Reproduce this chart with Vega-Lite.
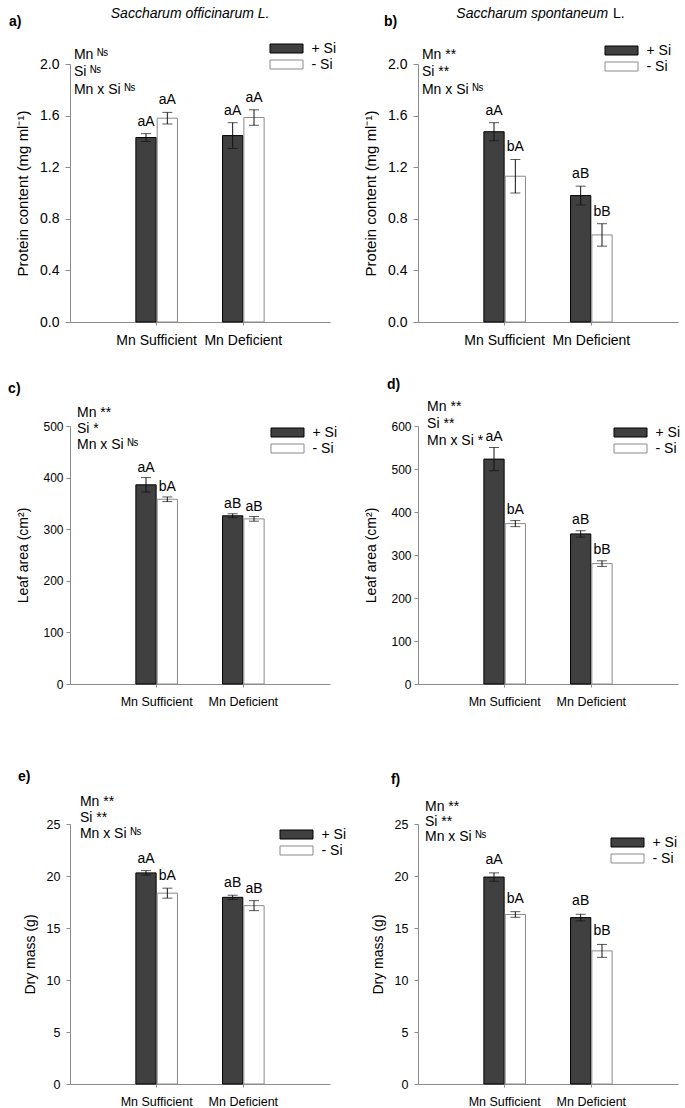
{
  "$schema": "https://vega.github.io/schema/vega-lite/v6.json",
  "background": "white",
  "padding": {"left": 8, "top": 6, "right": 5, "bottom": 2},
  "config": {
    "font": "Liberation Sans",
    "view": {"stroke": null},
    "axis": {"domainColor": "#8c8c8c", "tickColor": "#8c8c8c", "labelColor": "#000000", "titleColor": "#000000", "grid": false, "titleFontWeight": "normal", "titleFontSize": 14, "labelFont": "Liberation Sans", "titleFont": "Liberation Sans"},
    "legend": {"labelFont": "Liberation Sans", "labelColor": "#000000"},
    "text": {"color": "#000000"}
  },
  "datasets": {
    "bars": [
      {"panel": "a", "mn": "Mn Sufficient", "si": "+ Si", "val": 1.43, "lo": 1.40, "hi": 1.46, "lab": "aA"},
      {"panel": "a", "mn": "Mn Sufficient", "si": "- Si", "val": 1.58, "lo": 1.535, "hi": 1.625, "lab": "aA"},
      {"panel": "a", "mn": "Mn Deficient", "si": "+ Si", "val": 1.445, "lo": 1.345, "hi": 1.545, "lab": "aA"},
      {"panel": "a", "mn": "Mn Deficient", "si": "- Si", "val": 1.585, "lo": 1.525, "hi": 1.645, "lab": "aA"},
      {"panel": "b", "mn": "Mn Sufficient", "si": "+ Si", "val": 1.475, "lo": 1.405, "hi": 1.545, "lab": "aA"},
      {"panel": "b", "mn": "Mn Sufficient", "si": "- Si", "val": 1.13, "lo": 1.0, "hi": 1.26, "lab": "bA"},
      {"panel": "b", "mn": "Mn Deficient", "si": "+ Si", "val": 0.98, "lo": 0.907, "hi": 1.053, "lab": "aB"},
      {"panel": "b", "mn": "Mn Deficient", "si": "- Si", "val": 0.675, "lo": 0.588, "hi": 0.762, "lab": "bB"},
      {"panel": "c", "mn": "Mn Sufficient", "si": "+ Si", "val": 386, "lo": 372, "hi": 400, "lab": "aA"},
      {"panel": "c", "mn": "Mn Sufficient", "si": "- Si", "val": 358, "lo": 353.5, "hi": 362.5, "lab": "bA"},
      {"panel": "c", "mn": "Mn Deficient", "si": "+ Si", "val": 326, "lo": 322, "hi": 330, "lab": "aB"},
      {"panel": "c", "mn": "Mn Deficient", "si": "- Si", "val": 320, "lo": 315.5, "hi": 324.5, "lab": "aB"},
      {"panel": "d", "mn": "Mn Sufficient", "si": "+ Si", "val": 523, "lo": 496, "hi": 550, "lab": "aA"},
      {"panel": "d", "mn": "Mn Sufficient", "si": "- Si", "val": 373, "lo": 366, "hi": 380, "lab": "bA"},
      {"panel": "d", "mn": "Mn Deficient", "si": "+ Si", "val": 349, "lo": 341.5, "hi": 356.5, "lab": "aB"},
      {"panel": "d", "mn": "Mn Deficient", "si": "- Si", "val": 280, "lo": 273.5, "hi": 286.5, "lab": "bB"},
      {"panel": "e", "mn": "Mn Sufficient", "si": "+ Si", "val": 20.3, "lo": 20.08, "hi": 20.52, "lab": "aA"},
      {"panel": "e", "mn": "Mn Sufficient", "si": "- Si", "val": 18.35, "lo": 17.87, "hi": 18.83, "lab": "bA"},
      {"panel": "e", "mn": "Mn Deficient", "si": "+ Si", "val": 17.95, "lo": 17.75, "hi": 18.15, "lab": "aB"},
      {"panel": "e", "mn": "Mn Deficient", "si": "- Si", "val": 17.15, "lo": 16.67, "hi": 17.63, "lab": "aB"},
      {"panel": "f", "mn": "Mn Sufficient", "si": "+ Si", "val": 19.9, "lo": 19.5, "hi": 20.3, "lab": "aA"},
      {"panel": "f", "mn": "Mn Sufficient", "si": "- Si", "val": 16.3, "lo": 16.03, "hi": 16.57, "lab": "bA"},
      {"panel": "f", "mn": "Mn Deficient", "si": "+ Si", "val": 16.0, "lo": 15.68, "hi": 16.32, "lab": "aB"},
      {"panel": "f", "mn": "Mn Deficient", "si": "- Si", "val": 12.8, "lo": 12.18, "hi": 13.42, "lab": "bB"}
    ],
    "panels": [
      {"panel": "a", "tag": "a)", "sp1": "Saccharum officinarum L.", "sp2": "", "notes": "Mn ᴺˢ\nSi ᴺˢ\nMn x Si ᴺˢ"},
      {"panel": "b", "tag": "b)", "sp1": "Saccharum spontaneum", "sp2": "L.", "notes": "Mn **\nSi **\nMn x Si ᴺˢ"},
      {"panel": "c", "tag": "c)", "sp1": "", "sp2": "", "notes": "Mn **\nSi *\nMn x Si ᴺˢ"},
      {"panel": "d", "tag": "d)", "sp1": "", "sp2": "", "notes": "Mn **\nSi **\nMn x Si *"},
      {"panel": "e", "tag": "e)", "sp1": "", "sp2": "", "notes": "Mn **\nSi **\nMn x Si ᴺˢ"},
      {"panel": "f", "tag": "f)", "sp1": "", "sp2": "", "notes": "Mn **\nSi **\nMn x Si ᴺˢ"}
    ]
  },
  "columns": 2,
  "spacing": {"row": 104, "column": 88},
  "bounds": "flush",
  "resolve": {"scale": {"x": "independent", "y": "independent", "fill": "independent", "stroke": "independent"}},
  "concat": [
    {
      "width": 260, "height": 258,
      "resolve": {"scale": {"x": "independent"}},
      "layer": [
        {
          "data": {"name": "bars"},
          "transform": [{"filter": "datum.panel === 'a'"}],
          "encoding": {
            "x": {"field": "mn", "type": "nominal", "scale": {"domain": ["Mn Sufficient", "Mn Deficient"], "paddingInner": 0.52, "paddingOuter": 0.76}, "axis": {"title": null, "labelAngle": 0, "labelFontSize": 14, "tickSize": 3, "labelPadding": 8, "labelOverlap": false}},
            "xOffset": {"field": "si", "type": "nominal", "scale": {"domain": ["+ Si", "- Si"], "paddingInner": 0.05}}
          },
          "layer": [
            {"mark": {"type": "bar", "strokeWidth": 1},
             "encoding": {
               "y": {"field": "val", "type": "quantitative", "scale": {"domain": [0, 2], "nice": false}, "axis": {"title": "Protein content (mg ml⁻¹)", "values": [0, 0.4, 0.8, 1.2, 1.6, 2.0], "format": ".1f", "labelFontSize": 14, "titleFontSize": 15, "tickSize": 5, "labelPadding": 6, "titlePadding": 9}},
               "fill": {"field": "si", "type": "nominal", "scale": {"domain": ["+ Si", "- Si"], "range": ["#404040", "#ffffff"]}, "legend": {"orient": "none", "legendX": 209.5, "legendY": -22.5, "title": null, "symbolType": "M-2.75,-0.75H2.75V0.75H-2.75Z", "symbolSize": 144, "labelFontSize": 14, "labelOffset": 18, "rowPadding": 2, "symbolStrokeWidth": 1, "padding": 0}},
               "stroke": {"field": "si", "type": "nominal", "scale": {"domain": ["+ Si", "- Si"], "range": ["#000000", "#8a8a8a"]}, "legend": {"orient": "none", "legendX": 209.5, "legendY": -22.5, "title": null, "symbolType": "M-2.75,-0.75H2.75V0.75H-2.75Z", "symbolSize": 144, "labelFontSize": 14, "labelOffset": 18, "rowPadding": 2, "symbolStrokeWidth": 1, "padding": 0}}
             }},
            {"mark": {"type": "rule", "color": "#111111", "strokeWidth": 1}, "encoding": {"y": {"field": "lo", "type": "quantitative"}, "y2": {"field": "hi"}}},
            {"mark": {"type": "tick", "color": "#111111", "thickness": 1, "size": 10}, "encoding": {"y": {"field": "lo", "type": "quantitative"}}},
            {"mark": {"type": "tick", "color": "#111111", "thickness": 1, "size": 10}, "encoding": {"y": {"field": "hi", "type": "quantitative"}}},
            {"mark": {"type": "text", "fontSize": 14, "dy": -8, "baseline": "alphabetic"}, "encoding": {"y": {"field": "hi", "type": "quantitative"}, "text": {"field": "lab"}}}
          ]
        },
        {
          "data": {"name": "panels"},
          "transform": [{"filter": "datum.panel === 'a'"}],
          "layer": [
            {"mark": {"type": "text", "fontSize": 14, "fontWeight": "bold", "align": "left", "baseline": "alphabetic"},
             "encoding": {"x": {"datum": -0.235, "type": "quantitative", "scale": {"domain": [0, 1]}, "axis": null}, "y": {"datum": 2.295, "type": "quantitative"}, "text": {"field": "tag"}}},
            {"mark": {"type": "text", "fontSize": 14, "fontStyle": "italic", "align": "center", "baseline": "alphabetic"},
             "encoding": {"x": {"datum": 0.462, "type": "quantitative"}, "y": {"datum": 2.357, "type": "quantitative"}, "text": {"field": "sp1"}}},
            {"mark": {"type": "text", "fontSize": 14, "align": "left", "baseline": "alphabetic", "lineBreak": "\n", "lineHeight": 17.5},
             "encoding": {"x": {"datum": 0.015, "type": "quantitative"}, "y": {"datum": 2.039, "type": "quantitative"}, "text": {"field": "notes"}}}
          ]
        }
      ]
    },
    {
      "width": 260, "height": 258,
      "resolve": {"scale": {"x": "independent"}},
      "layer": [
        {
          "data": {"name": "bars"},
          "transform": [{"filter": "datum.panel === 'b'"}],
          "encoding": {
            "x": {"field": "mn", "type": "nominal", "scale": {"domain": ["Mn Sufficient", "Mn Deficient"], "paddingInner": 0.52, "paddingOuter": 0.76}, "axis": {"title": null, "labelAngle": 0, "labelFontSize": 14, "tickSize": 3, "labelPadding": 8, "labelOverlap": false}},
            "xOffset": {"field": "si", "type": "nominal", "scale": {"domain": ["+ Si", "- Si"], "paddingInner": 0.05}}
          },
          "layer": [
            {"mark": {"type": "bar", "strokeWidth": 1},
             "encoding": {
               "y": {"field": "val", "type": "quantitative", "scale": {"domain": [0, 2], "nice": false}, "axis": {"title": "Protein content (mg ml⁻¹)", "values": [0, 0.4, 0.8, 1.2, 1.6, 2.0], "format": ".1f", "labelFontSize": 14, "titleFontSize": 15, "tickSize": 5, "labelPadding": 6, "titlePadding": 9}},
               "fill": {"field": "si", "type": "nominal", "scale": {"domain": ["+ Si", "- Si"], "range": ["#404040", "#ffffff"]}, "legend": {"orient": "none", "legendX": 196.5, "legendY": -20.5, "title": null, "symbolType": "M-2.75,-0.75H2.75V0.75H-2.75Z", "symbolSize": 144, "labelFontSize": 14, "labelOffset": 18, "rowPadding": 2, "symbolStrokeWidth": 1, "padding": 0}},
               "stroke": {"field": "si", "type": "nominal", "scale": {"domain": ["+ Si", "- Si"], "range": ["#000000", "#8a8a8a"]}, "legend": {"orient": "none", "legendX": 196.5, "legendY": -20.5, "title": null, "symbolType": "M-2.75,-0.75H2.75V0.75H-2.75Z", "symbolSize": 144, "labelFontSize": 14, "labelOffset": 18, "rowPadding": 2, "symbolStrokeWidth": 1, "padding": 0}}
             }},
            {"mark": {"type": "rule", "color": "#111111", "strokeWidth": 1}, "encoding": {"y": {"field": "lo", "type": "quantitative"}, "y2": {"field": "hi"}}},
            {"mark": {"type": "tick", "color": "#111111", "thickness": 1, "size": 10}, "encoding": {"y": {"field": "lo", "type": "quantitative"}}},
            {"mark": {"type": "tick", "color": "#111111", "thickness": 1, "size": 10}, "encoding": {"y": {"field": "hi", "type": "quantitative"}}},
            {"mark": {"type": "text", "fontSize": 14, "dy": -8, "baseline": "alphabetic"}, "encoding": {"y": {"field": "hi", "type": "quantitative"}, "text": {"field": "lab"}}}
          ]
        },
        {
          "data": {"name": "panels"},
          "transform": [{"filter": "datum.panel === 'b'"}],
          "layer": [
            {"mark": {"type": "text", "fontSize": 14, "fontWeight": "bold", "align": "left", "baseline": "alphabetic"},
             "encoding": {"x": {"datum": -0.131, "type": "quantitative", "scale": {"domain": [0, 1]}, "axis": null}, "y": {"datum": 2.295, "type": "quantitative"}, "text": {"field": "tag"}}},
            {"mark": {"type": "text", "fontSize": 14, "fontStyle": "italic", "align": "right", "baseline": "alphabetic"},
             "encoding": {"x": {"datum": 0.731, "type": "quantitative"}, "y": {"datum": 2.357, "type": "quantitative"}, "text": {"field": "sp1"}}},
            {"mark": {"type": "text", "fontSize": 14, "align": "left", "baseline": "alphabetic"},
             "encoding": {"x": {"datum": 0.75, "type": "quantitative"}, "y": {"datum": 2.357, "type": "quantitative"}, "text": {"field": "sp2"}}},
            {"mark": {"type": "text", "fontSize": 14, "align": "left", "baseline": "alphabetic", "lineBreak": "\n", "lineHeight": 17.5},
             "encoding": {"x": {"datum": 0.015, "type": "quantitative"}, "y": {"datum": 2.039, "type": "quantitative"}, "text": {"field": "notes"}}}
          ]
        }
      ]
    },
    {
      "width": 260, "height": 258,
      "resolve": {"scale": {"x": "independent"}},
      "layer": [
        {
          "data": {"name": "bars"},
          "transform": [{"filter": "datum.panel === 'c'"}],
          "encoding": {
            "x": {"field": "mn", "type": "nominal", "scale": {"domain": ["Mn Sufficient", "Mn Deficient"], "paddingInner": 0.52, "paddingOuter": 0.76}, "axis": {"title": null, "labelAngle": 0, "labelFontSize": 12.5, "tickSize": 3, "labelPadding": 8, "labelOverlap": false}},
            "xOffset": {"field": "si", "type": "nominal", "scale": {"domain": ["+ Si", "- Si"], "paddingInner": 0.05}}
          },
          "layer": [
            {"mark": {"type": "bar", "strokeWidth": 1},
             "encoding": {
               "y": {"field": "val", "type": "quantitative", "scale": {"domain": [0, 500], "nice": false}, "axis": {"title": "Leaf area (cm²)", "values": [0, 100, 200, 300, 400, 500], "labelFontSize": 12, "titleFontSize": 14, "tickSize": 4, "labelPadding": 3, "titlePadding": 12}},
               "fill": {"field": "si", "type": "nominal", "scale": {"domain": ["+ Si", "- Si"], "range": ["#404040", "#ffffff"]}, "legend": {"orient": "none", "legendX": 210.5, "legendY": -0.5, "title": null, "symbolType": "M-2.75,-0.75H2.75V0.75H-2.75Z", "symbolSize": 144, "labelFontSize": 14, "labelOffset": 18, "rowPadding": 2, "symbolStrokeWidth": 1, "padding": 0}},
               "stroke": {"field": "si", "type": "nominal", "scale": {"domain": ["+ Si", "- Si"], "range": ["#000000", "#8a8a8a"]}, "legend": {"orient": "none", "legendX": 210.5, "legendY": -0.5, "title": null, "symbolType": "M-2.75,-0.75H2.75V0.75H-2.75Z", "symbolSize": 144, "labelFontSize": 14, "labelOffset": 18, "rowPadding": 2, "symbolStrokeWidth": 1, "padding": 0}}
             }},
            {"mark": {"type": "rule", "color": "#111111", "strokeWidth": 1}, "encoding": {"y": {"field": "lo", "type": "quantitative"}, "y2": {"field": "hi"}}},
            {"mark": {"type": "tick", "color": "#111111", "thickness": 1, "size": 10}, "encoding": {"y": {"field": "lo", "type": "quantitative"}}},
            {"mark": {"type": "tick", "color": "#111111", "thickness": 1, "size": 10}, "encoding": {"y": {"field": "hi", "type": "quantitative"}}},
            {"mark": {"type": "text", "fontSize": 14, "dy": -6, "baseline": "alphabetic"}, "encoding": {"y": {"field": "hi", "type": "quantitative"}, "text": {"field": "lab"}}}
          ]
        },
        {
          "data": {"name": "panels"},
          "transform": [{"filter": "datum.panel === 'c'"}],
          "layer": [
            {"mark": {"type": "text", "fontSize": 14, "fontWeight": "bold", "align": "left", "baseline": "alphabetic"},
             "encoding": {"x": {"datum": -0.238, "type": "quantitative", "scale": {"domain": [0, 1]}, "axis": null}, "y": {"datum": 564, "type": "quantitative"}, "text": {"field": "tag"}}},
            {"mark": {"type": "text", "fontSize": 14, "align": "left", "baseline": "alphabetic", "lineBreak": "\n", "lineHeight": 16},
             "encoding": {"x": {"datum": 0.027, "type": "quantitative"}, "y": {"datum": 517.4, "type": "quantitative"}, "text": {"field": "notes"}}}
          ]
        }
      ]
    },
    {
      "width": 260, "height": 258,
      "resolve": {"scale": {"x": "independent"}},
      "layer": [
        {
          "data": {"name": "bars"},
          "transform": [{"filter": "datum.panel === 'd'"}],
          "encoding": {
            "x": {"field": "mn", "type": "nominal", "scale": {"domain": ["Mn Sufficient", "Mn Deficient"], "paddingInner": 0.52, "paddingOuter": 0.76}, "axis": {"title": null, "labelAngle": 0, "labelFontSize": 12.5, "tickSize": 3, "labelPadding": 8, "labelOverlap": false}},
            "xOffset": {"field": "si", "type": "nominal", "scale": {"domain": ["+ Si", "- Si"], "paddingInner": 0.05}}
          },
          "layer": [
            {"mark": {"type": "bar", "strokeWidth": 1},
             "encoding": {
               "y": {"field": "val", "type": "quantitative", "scale": {"domain": [0, 600], "nice": false}, "axis": {"title": "Leaf area (cm²)", "values": [0, 100, 200, 300, 400, 500, 600], "labelFontSize": 12, "titleFontSize": 14, "tickSize": 4, "labelPadding": 3, "titlePadding": 12}},
               "fill": {"field": "si", "type": "nominal", "scale": {"domain": ["+ Si", "- Si"], "range": ["#404040", "#ffffff"]}, "legend": {"orient": "none", "legendX": 205.5, "legendY": -0.5, "title": null, "symbolType": "M-2.75,-0.75H2.75V0.75H-2.75Z", "symbolSize": 144, "labelFontSize": 14, "labelOffset": 18, "rowPadding": 2, "symbolStrokeWidth": 1, "padding": 0}},
               "stroke": {"field": "si", "type": "nominal", "scale": {"domain": ["+ Si", "- Si"], "range": ["#000000", "#8a8a8a"]}, "legend": {"orient": "none", "legendX": 205.5, "legendY": -0.5, "title": null, "symbolType": "M-2.75,-0.75H2.75V0.75H-2.75Z", "symbolSize": 144, "labelFontSize": 14, "labelOffset": 18, "rowPadding": 2, "symbolStrokeWidth": 1, "padding": 0}}
             }},
            {"mark": {"type": "rule", "color": "#111111", "strokeWidth": 1}, "encoding": {"y": {"field": "lo", "type": "quantitative"}, "y2": {"field": "hi"}}},
            {"mark": {"type": "tick", "color": "#111111", "thickness": 1, "size": 10}, "encoding": {"y": {"field": "lo", "type": "quantitative"}}},
            {"mark": {"type": "tick", "color": "#111111", "thickness": 1, "size": 10}, "encoding": {"y": {"field": "hi", "type": "quantitative"}}},
            {"mark": {"type": "text", "fontSize": 14, "dy": -7, "baseline": "alphabetic"}, "encoding": {"y": {"field": "hi", "type": "quantitative"}, "text": {"field": "lab"}}}
          ]
        },
        {
          "data": {"name": "panels"},
          "transform": [{"filter": "datum.panel === 'd'"}],
          "layer": [
            {"mark": {"type": "text", "fontSize": 14, "fontWeight": "bold", "align": "left", "baseline": "alphabetic"},
             "encoding": {"x": {"datum": -0.119, "type": "quantitative", "scale": {"domain": [0, 1]}, "axis": null}, "y": {"datum": 686, "type": "quantitative"}, "text": {"field": "tag"}}},
            {"mark": {"type": "text", "fontSize": 14, "align": "left", "baseline": "alphabetic", "lineBreak": "\n", "lineHeight": 17},
             "encoding": {"x": {"datum": 0.035, "type": "quantitative"}, "y": {"datum": 634.9, "type": "quantitative"}, "text": {"field": "notes"}}}
          ]
        }
      ]
    },
    {
      "width": 260, "height": 296,
      "resolve": {"scale": {"x": "independent"}},
      "layer": [
        {
          "data": {"name": "bars"},
          "transform": [{"filter": "datum.panel === 'e'"}],
          "encoding": {
            "x": {"field": "mn", "type": "nominal", "scale": {"domain": ["Mn Sufficient", "Mn Deficient"], "paddingInner": 0.52, "paddingOuter": 0.76}, "axis": {"title": null, "labelAngle": 0, "labelFontSize": 12.5, "tickSize": 3, "labelPadding": 8, "labelOverlap": false}},
            "xOffset": {"field": "si", "type": "nominal", "scale": {"domain": ["+ Si", "- Si"], "paddingInner": 0.05}}
          },
          "layer": [
            {"mark": {"type": "bar", "strokeWidth": 1},
             "encoding": {
               "y": {"field": "val", "type": "quantitative", "scale": {"domain": [0, 25], "nice": false, "range": [296, 36]}, "axis": {"title": "Dry mass (g)", "values": [0, 5, 10, 15, 20, 25], "labelFontSize": 12.5, "titleFontSize": 14, "tickSize": 4, "labelPadding": 6, "titlePadding": 9}},
               "fill": {"field": "si", "type": "nominal", "scale": {"domain": ["+ Si", "- Si"], "range": ["#404040", "#ffffff"]}, "legend": {"orient": "none", "legendX": 219.5, "legendY": 39.5, "title": null, "symbolType": "M-2.75,-0.75H2.75V0.75H-2.75Z", "symbolSize": 144, "labelFontSize": 14, "labelOffset": 18, "rowPadding": 2, "symbolStrokeWidth": 1, "padding": 0}},
               "stroke": {"field": "si", "type": "nominal", "scale": {"domain": ["+ Si", "- Si"], "range": ["#000000", "#8a8a8a"]}, "legend": {"orient": "none", "legendX": 219.5, "legendY": 39.5, "title": null, "symbolType": "M-2.75,-0.75H2.75V0.75H-2.75Z", "symbolSize": 144, "labelFontSize": 14, "labelOffset": 18, "rowPadding": 2, "symbolStrokeWidth": 1, "padding": 0}}
             }},
            {"mark": {"type": "rule", "color": "#111111", "strokeWidth": 1}, "encoding": {"y": {"field": "lo", "type": "quantitative"}, "y2": {"field": "hi"}}},
            {"mark": {"type": "tick", "color": "#111111", "thickness": 1, "size": 10}, "encoding": {"y": {"field": "lo", "type": "quantitative"}}},
            {"mark": {"type": "tick", "color": "#111111", "thickness": 1, "size": 10}, "encoding": {"y": {"field": "hi", "type": "quantitative"}}},
            {"mark": {"type": "text", "fontSize": 14, "dy": -8, "baseline": "alphabetic"}, "encoding": {"y": {"field": "hi", "type": "quantitative"}, "text": {"field": "lab"}}}
          ]
        },
        {
          "data": {"name": "panels"},
          "transform": [{"filter": "datum.panel === 'e'"}],
          "layer": [
            {"mark": {"type": "text", "fontSize": 14, "fontWeight": "bold", "align": "left", "baseline": "alphabetic"},
             "encoding": {"x": {"datum": -0.2, "type": "quantitative", "scale": {"domain": [0, 1]}, "axis": null}, "y": {"datum": 29.13, "type": "quantitative"}, "text": {"field": "tag"}}},
            {"mark": {"type": "text", "fontSize": 14, "align": "left", "baseline": "alphabetic", "lineBreak": "\n", "lineHeight": 16},
             "encoding": {"x": {"datum": 0.038, "type": "quantitative"}, "y": {"datum": 26.73, "type": "quantitative"}, "text": {"field": "notes"}}}
          ]
        }
      ]
    },
    {
      "width": 260, "height": 296,
      "resolve": {"scale": {"x": "independent"}},
      "layer": [
        {
          "data": {"name": "bars"},
          "transform": [{"filter": "datum.panel === 'f'"}],
          "encoding": {
            "x": {"field": "mn", "type": "nominal", "scale": {"domain": ["Mn Sufficient", "Mn Deficient"], "paddingInner": 0.52, "paddingOuter": 0.76}, "axis": {"title": null, "labelAngle": 0, "labelFontSize": 12.5, "tickSize": 3, "labelPadding": 8, "labelOverlap": false}},
            "xOffset": {"field": "si", "type": "nominal", "scale": {"domain": ["+ Si", "- Si"], "paddingInner": 0.05}}
          },
          "layer": [
            {"mark": {"type": "bar", "strokeWidth": 1},
             "encoding": {
               "y": {"field": "val", "type": "quantitative", "scale": {"domain": [0, 25], "nice": false, "range": [296, 36]}, "axis": {"title": "Dry mass (g)", "values": [0, 5, 10, 15, 20, 25], "labelFontSize": 12.5, "titleFontSize": 14, "tickSize": 4, "labelPadding": 6, "titlePadding": 9}},
               "fill": {"field": "si", "type": "nominal", "scale": {"domain": ["+ Si", "- Si"], "range": ["#404040", "#ffffff"]}, "legend": {"orient": "none", "legendX": 202.5, "legendY": 47.5, "title": null, "symbolType": "M-2.75,-0.75H2.75V0.75H-2.75Z", "symbolSize": 144, "labelFontSize": 14, "labelOffset": 18, "rowPadding": 2, "symbolStrokeWidth": 1, "padding": 0}},
               "stroke": {"field": "si", "type": "nominal", "scale": {"domain": ["+ Si", "- Si"], "range": ["#000000", "#8a8a8a"]}, "legend": {"orient": "none", "legendX": 202.5, "legendY": 47.5, "title": null, "symbolType": "M-2.75,-0.75H2.75V0.75H-2.75Z", "symbolSize": 144, "labelFontSize": 14, "labelOffset": 18, "rowPadding": 2, "symbolStrokeWidth": 1, "padding": 0}}
             }},
            {"mark": {"type": "rule", "color": "#111111", "strokeWidth": 1}, "encoding": {"y": {"field": "lo", "type": "quantitative"}, "y2": {"field": "hi"}}},
            {"mark": {"type": "tick", "color": "#111111", "thickness": 1, "size": 10}, "encoding": {"y": {"field": "lo", "type": "quantitative"}}},
            {"mark": {"type": "tick", "color": "#111111", "thickness": 1, "size": 10}, "encoding": {"y": {"field": "hi", "type": "quantitative"}}},
            {"mark": {"type": "text", "fontSize": 14, "dy": -9, "baseline": "alphabetic"}, "encoding": {"y": {"field": "hi", "type": "quantitative"}, "text": {"field": "lab"}}}
          ]
        },
        {
          "data": {"name": "panels"},
          "transform": [{"filter": "datum.panel === 'f'"}],
          "layer": [
            {"mark": {"type": "text", "fontSize": 14, "fontWeight": "bold", "align": "left", "baseline": "alphabetic"},
             "encoding": {"x": {"datum": -0.104, "type": "quantitative", "scale": {"domain": [0, 1]}, "axis": null}, "y": {"datum": 28.85, "type": "quantitative"}, "text": {"field": "tag"}}},
            {"mark": {"type": "text", "fontSize": 14, "align": "left", "baseline": "alphabetic", "lineBreak": "\n", "lineHeight": 15},
             "encoding": {"x": {"datum": 0.027, "type": "quantitative"}, "y": {"datum": 26.25, "type": "quantitative"}, "text": {"field": "notes"}}}
          ]
        }
      ]
    }
  ]
}
